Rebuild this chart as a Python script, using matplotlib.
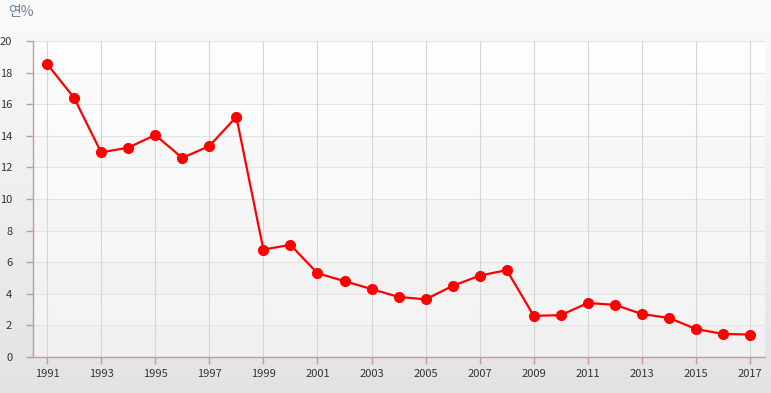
import numpy as np
import matplotlib.pyplot as plt
from matplotlib.colors import LinearSegmentedColormap

years = list(range(1991, 2018))
rates = [18.55, 16.4, 12.95, 13.25, 14.05, 12.6, 13.35, 15.2,
         6.8, 7.1, 5.3, 4.8, 4.3, 3.8, 3.65, 4.5, 5.15, 5.5,
         2.6, 2.65, 3.42, 3.3, 2.72, 2.47, 1.77, 1.46, 1.42]
xticks = list(range(1991, 2018, 2))
yticks = list(range(0, 21, 2))

plt.rcParams['font.family'] = ['Noto Sans CJK KR', 'DejaVu Sans']

fig = plt.figure(figsize=(7.71, 3.93), dpi=100)

# background gradient for the whole figure
bg = fig.add_axes([0, 0, 1, 1], zorder=-10)
grad = np.linspace(0, 1, 256).reshape(-1, 1)
bg.imshow(grad, cmap=LinearSegmentedColormap.from_list('bg', ['#fbfbfb', '#e3e3e3']),
          aspect='auto', extent=[0, 1, 0, 1])
bg.axis('off')

ax = fig.add_axes([33/771, 36/393, 732/771, 316/393])
ax.set_xlim(1990.48, 2017.55)
ax.set_ylim(0, 20)

# plot area gradient + alternating bands
ax.imshow(grad, cmap=LinearSegmentedColormap.from_list('pa', ['#ffffff', '#f3f3f3']),
          aspect='auto', extent=[1990.48, 2017.55, 0, 20], zorder=0, origin='upper')
for y0 in yticks[:-1]:
    if (y0 // 2) % 2 == 0:
        ax.axhspan(y0, y0 + 2, color='#000000', alpha=0.012, lw=0, zorder=0.5)

for y in yticks[1:]:
    ax.axhline(y, color='#e4e4e4', lw=0.8, zorder=1)
for x in xticks:
    ax.axvline(x, color='#d6d6d6', lw=0.8, zorder=1)

ax.plot(years, rates, color='#ff0000', lw=1.6, marker='o', ms=7, zorder=3)

for s in ['top', 'right']:
    ax.spines[s].set_visible(False)
for s in ['left', 'bottom']:
    ax.spines[s].set_color('#c09aa4')
    ax.spines[s].set_linewidth(1)

ax.set_xticks(xticks)
ax.set_yticks(yticks)
ax.tick_params(colors='#c09aa4', length=5, width=1, labelcolor='#333333', labelsize=8)
ax.tick_params(axis='y', pad=10)

fig.text(8/771, 1 - 12/393, '연%', color='#6a86a8', fontsize=10, va='center', ha='left',
         family=['Noto Sans CJK KR', 'DejaVu Sans'])

fig.savefig('out.png', dpi=100)
